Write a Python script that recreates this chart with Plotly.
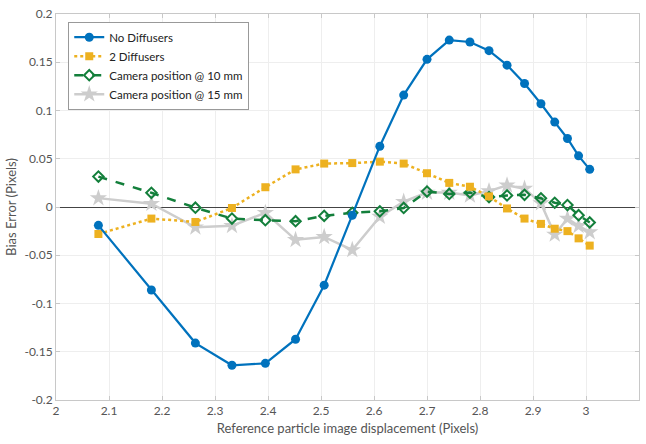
import plotly.graph_objects as go

# Reference particle image displacement (pixels), shared by all four series
displacement = [2.080, 2.180, 2.263, 2.332, 2.395, 2.452, 2.506, 2.559, 2.611, 2.656,
                2.700, 2.742, 2.781, 2.817, 2.851, 2.884, 2.915, 2.941, 2.965, 2.986, 3.007]

# Bias error (pixels)
no_diffusers = [-0.019, -0.086, -0.141, -0.164, -0.162, -0.137, -0.081, -0.0085, 0.063, 0.116,
                0.153, 0.173, 0.171, 0.162, 0.147, 0.128, 0.107, 0.088, 0.071, 0.053, 0.039]
two_diffusers = [-0.028, -0.012, -0.0155, -0.001, 0.0205, 0.039, 0.045, 0.0455, 0.047, 0.045,
                 0.035, 0.025, 0.021, 0.011, -0.0015, -0.012, -0.0175, -0.0225, -0.025, -0.0325, -0.040]
camera_10mm = [0.0315, 0.0147, -0.0007, -0.012, -0.0137, -0.0147, -0.0092, -0.006, -0.0045, -0.001,
               0.016, 0.0135, 0.015, 0.0103, 0.012, 0.0126, 0.009, 0.0044, 0.002, -0.0085, -0.016]
camera_15mm = [0.0092, 0.0034, -0.021, -0.0195, -0.006, -0.034, -0.031, -0.0445, -0.010, 0.0055,
               0.015, 0.015, 0.012, 0.0165, 0.0225, 0.019, 0.004, -0.0285, -0.012, -0.0195, -0.026]

series_names = ["No Diffusers", "2 Diffusers", "Camera position @ 10 mm", "Camera position @ 15 mm"]

# Axis ticks
x_tickvals = [2.0, 2.1, 2.2, 2.3, 2.4, 2.5, 2.6, 2.7, 2.8, 2.9, 3.0, 3.1]
x_ticktext = ["2", "2.1", "2.2", "2.3", "2.4", "2.5", "2.6", "2.7", "2.8", "2.9", "3", "3.1"]
y_tickvals = [-0.2, -0.15, -0.1, -0.05, 0.0, 0.05, 0.1, 0.15, 0.2]
y_ticktext = ["-0.2", "-0.15", "-0.1", "-0.05", "0", "0.05", "0.1", "0.15", "0.2"]

FONT = "Lato"
BLUE = "#0072BD"
YELLOW = "#EDB120"
GREEN = "#137F3B"
GRAY = "#CDCDCD"

fig = go.Figure()

fig.add_trace(go.Scatter(
    x=displacement, y=camera_15mm, name=series_names[3], mode="lines+markers",
    line=dict(color=GRAY, width=2.5),
    marker=dict(symbol="star", size=13, color=GRAY, line=dict(width=0)),
))
fig.add_trace(go.Scatter(
    x=displacement, y=camera_10mm, name=series_names[2], mode="lines+markers",
    line=dict(color=GREEN, width=2.5, dash="dash"),
    marker=dict(symbol="diamond-open", size=8, color=GREEN, line=dict(width=2)),
))
fig.add_trace(go.Scatter(
    x=displacement, y=two_diffusers, name=series_names[1], mode="lines+markers",
    line=dict(color=YELLOW, width=2.5, dash="dot"),
    marker=dict(symbol="square", size=8, color=YELLOW),
))
fig.add_trace(go.Scatter(
    x=displacement, y=no_diffusers, name=series_names[0], mode="lines+markers",
    line=dict(color=BLUE, width=2.2),
    marker=dict(symbol="circle", size=9, color=BLUE),
))

axis_common = dict(
    showgrid=True, gridcolor="#EEEEEE", gridwidth=1,
    showline=True, linecolor="#C8C8C8", linewidth=1, mirror="ticks",
    ticks="inside", ticklen=4, tickcolor="#C8C8C8",
    tickfont=dict(family=FONT, size=12, color="#555555"),
)

fig.update_layout(
    width=646, height=444,
    margin=dict(l=56, r=6, t=10, b=44),
    paper_bgcolor="white", plot_bgcolor="white",
    font=dict(family=FONT, size=12, color="#555555"),
    xaxis=dict(
        range=[2.0, 3.1], tickvals=x_tickvals, ticktext=x_ticktext,
        zeroline=False,
        title=dict(text="Reference particle image displacement (Pixels)",
                   font=dict(family=FONT, size=13, color="#555555"), standoff=6),
        **axis_common,
    ),
    yaxis=dict(
        range=[-0.2, 0.2], tickvals=y_tickvals, ticktext=y_ticktext,
        zeroline=True, zerolinecolor="#444444", zerolinewidth=1,
        title=dict(text="Bias Error (Pixels)",
                   font=dict(family=FONT, size=13, color="#555555"), standoff=4),
        **axis_common,
    ),
    legend=dict(
        x=0.021, y=0.98, xanchor="left", yanchor="top",
        traceorder="reversed",
        bgcolor="white", bordercolor="#999999", borderwidth=1,
        font=dict(family=FONT, size=11.5, color="#222222"),
        tracegroupgap=0, itemwidth=30,
    ),
    showlegend=True,
)

fig.write_html("out.html")
